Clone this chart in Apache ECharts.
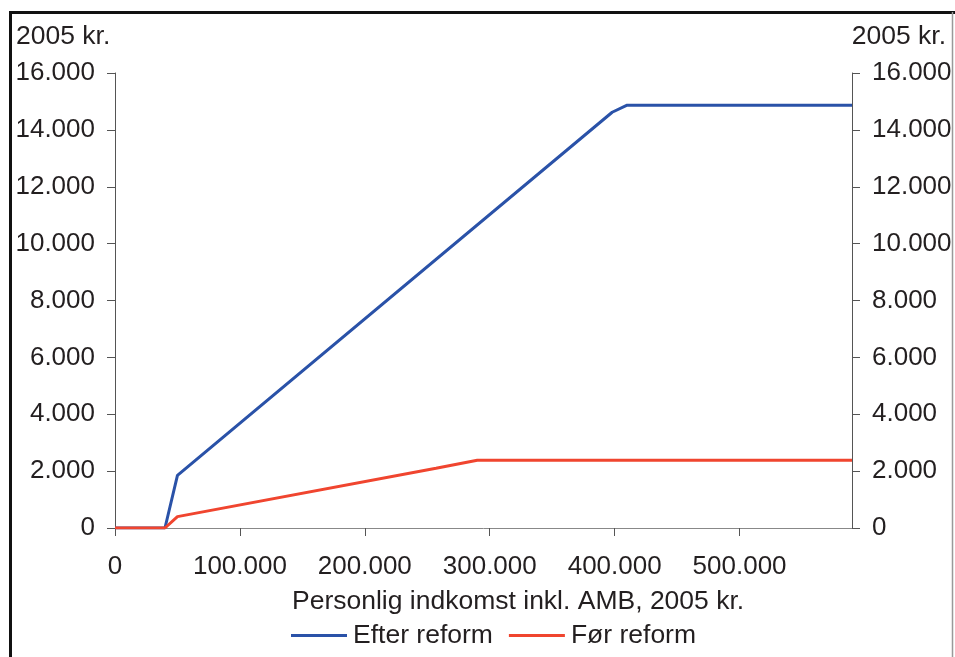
<!DOCTYPE html>
<html>
<head>
<meta charset="utf-8">
<script src="https://cdn.jsdelivr.net/npm/echarts@6/dist/echarts.min.js"></script>
<style>
  html, body { margin: 0; padding: 0; background: #fff; }
  #chart { width: 955px; height: 657px; }
</style>
</head>
<body>
<div id="chart"></div>
<script>
// Personlig indkomst (kr.) and the matching amounts (2005 kr.)
const incomeAfter = [0, 40000, 50000, 398000, 410000, 590000];
const valuesAfter = [0, 0, 1850, 14620, 14870, 14870];
const incomeBefore = [0, 40000, 50000, 257000, 290000, 590000];
const valuesBefore = [0, 0, 400, 2100, 2380, 2380];

const seriesNames = ['Efter reform', 'Før reform'];
const xTicks = [0, 100000, 200000, 300000, 400000, 500000];
const yTicks = [0, 2000, 4000, 6000, 8000, 10000, 12000, 14000, 16000];
const unitLabel = '2005 kr.';
const xTitle = 'Personlig indkomst inkl. AMB, 2005 kr.';

const FONT = 'Liberation Sans, Arial, sans-serif';
const TEXT = '#231f20';

function fmt(v) {
  return String(Math.round(v)).replace(/\B(?=(\d{3})+(?!\d))/g, '.');
}

function pairs(xs, ys) {
  return xs.map((x, i) => [x, ys[i]]);
}

function yAxisCfg(pos) {
  return {
    type: 'value',
    position: pos,
    min: 0,
    max: 16000,
    interval: 2000,
    axisLine: { show: true, lineStyle: { color: '#555', width: 1 } },
    axisTick: { show: true, length: 8, lineStyle: { color: '#555' }, customValues: yTicks },
    axisLabel: { fontFamily: FONT, fontSize: 26, color: TEXT, margin: 20, formatter: fmt, customValues: yTicks },
    splitLine: { show: false }
  };
}

const chart = echarts.init(document.getElementById('chart'), null, { renderer: 'canvas' });
chart.setOption({
  animation: false,
  backgroundColor: '#fff',
  grid: { left: 115, right: 103, top: 73, bottom: 129, containLabel: false },
  xAxis: {
    type: 'value',
    min: 0,
    max: 590000,
    interval: 100000,
    axisLine: { show: true, onZero: false, lineStyle: { color: '#888', width: 1 } },
    axisTick: { show: true, length: 8, lineStyle: { color: '#555' }, customValues: xTicks },
    axisLabel: { fontFamily: FONT, fontSize: 26, color: TEXT, margin: 26, formatter: fmt, customValues: xTicks },
    splitLine: { show: false }
  },
  yAxis: [yAxisCfg('left'), yAxisCfg('right')],
  legend: {
    left: 291,
    top: 622,
    padding: 0,
    itemWidth: 56,
    itemHeight: 3,
    itemGap: 16,
    icon: 'rect',
    textStyle: { fontFamily: FONT, fontSize: 26.5, color: TEXT, padding: [0, 0, 0, 1] },
    data: seriesNames
  },
  series: [
    {
      name: seriesNames[0],
      type: 'line',
      yAxisIndex: 0,
      data: pairs(incomeAfter, valuesAfter),
      showSymbol: false,
      symbol: 'none',
      lineStyle: { color: '#2a52a8', width: 3 },
      itemStyle: { color: '#2a52a8' },
      z: 3
    },
    {
      name: seriesNames[1],
      type: 'line',
      yAxisIndex: 0,
      data: pairs(incomeBefore, valuesBefore),
      showSymbol: false,
      symbol: 'none',
      lineStyle: { color: '#f0452f', width: 3 },
      itemStyle: { color: '#f0452f' },
      z: 4
    }
  ],
  graphic: [
    { type: 'line', shape: { x1: 10.5, y1: 11, x2: 10.5, y2: 657 }, style: { stroke: '#111', lineWidth: 3 } },
    { type: 'line', shape: { x1: 9, y1: 12.5, x2: 955, y2: 12.5 }, style: { stroke: '#111', lineWidth: 3 } },
    { type: 'line', shape: { x1: 952.5, y1: 12, x2: 952.5, y2: 657 }, style: { stroke: '#999', lineWidth: 1.5 } },
    { type: 'text', left: 16, top: 23, style: { text: unitLabel, fontFamily: FONT, fontSize: 26.5, fill: TEXT } },
    { type: 'text', right: 9, top: 23, style: { text: unitLabel, fontFamily: FONT, fontSize: 26.5, fill: TEXT } },
    { type: 'text', left: 292, top: 588, style: { text: xTitle, fontFamily: FONT, fontSize: 26.5, fill: TEXT } }
  ]
});
</script>
</body>
</html>
